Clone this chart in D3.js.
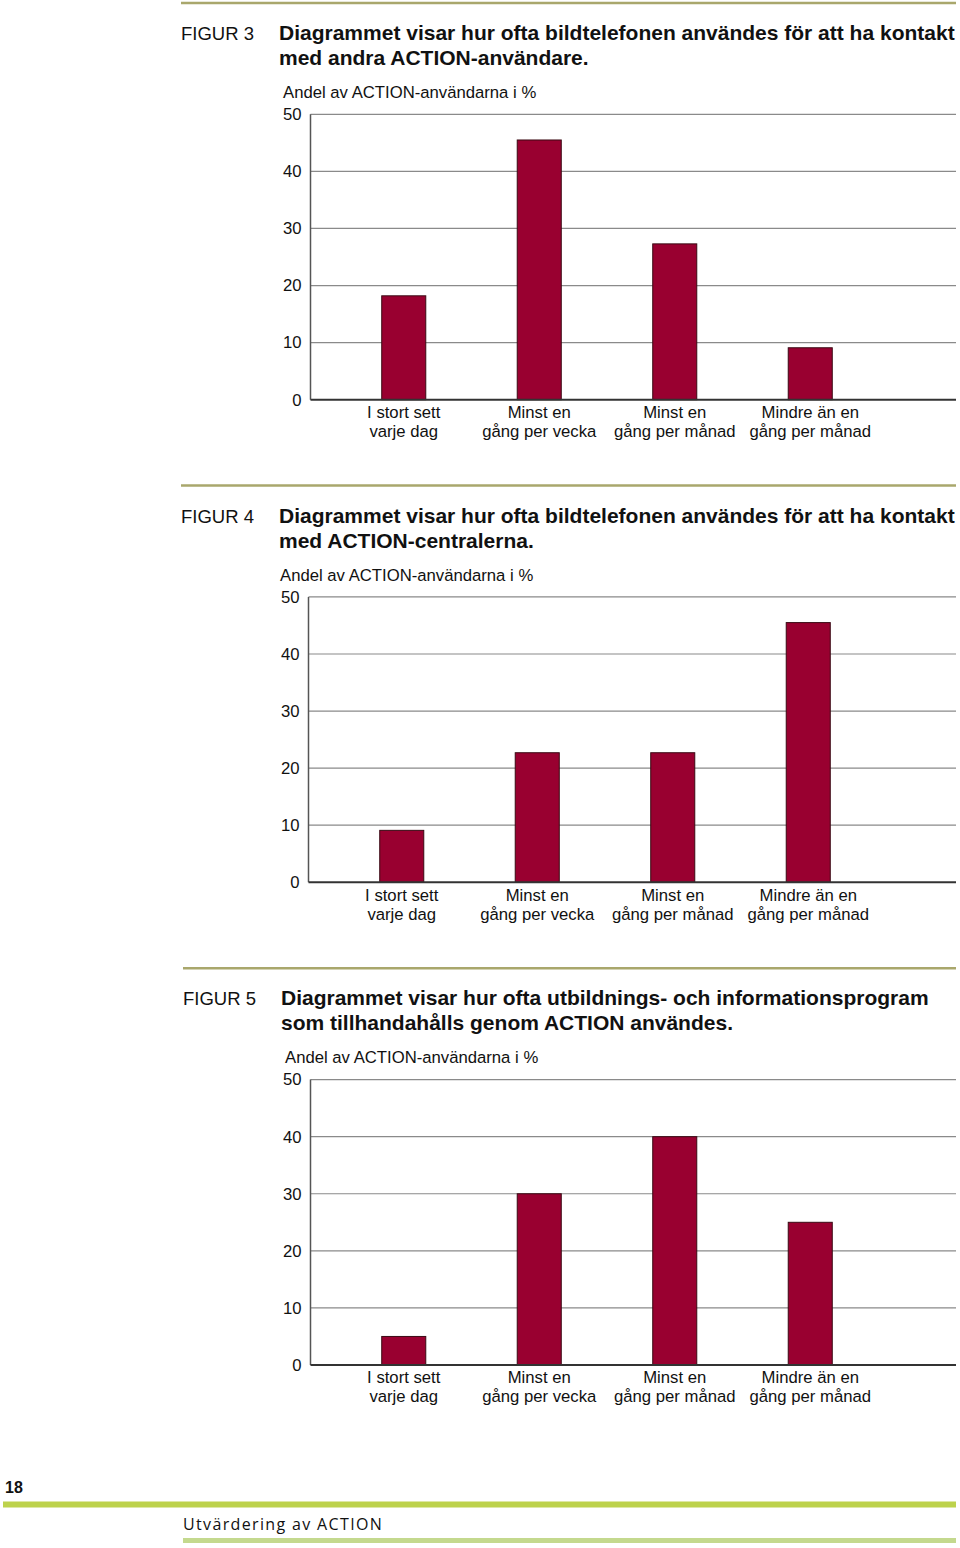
<!DOCTYPE html>
<html>
<head>
<meta charset="utf-8">
<script src="https://cdn.jsdelivr.net/npm/d3@7"></script>
<style>
  html, body { margin: 0; padding: 0; background: #fff; }
  svg { display: block; }
  text { font-family: "Liberation Sans", Arial, sans-serif; fill: #111; }
</style>
</head>
<body>
<svg id="page" width="960" height="1548"></svg>
<script>
// ---- Data ----
const categories = [
  ["I stort sett", "varje dag"],
  ["Minst en", "gång per vecka"],
  ["Minst en", "gång per månad"],
  ["Mindre än en", "gång per månad"]
];
const yTicks = [0, 10, 20, 30, 40, 50];
const yLabel = "Andel av ACTION-användarna i %";

const fig3Values = [18.2, 45.5, 27.3, 9.1];
const fig4Values = [9.1, 22.7, 22.7, 45.5];
const fig5Values = [5, 30, 40, 25];

const figureNames = ["FIGUR 3", "FIGUR 4", "FIGUR 5"];
const figureTitles = [
  ["Diagrammet visar hur ofta bildtelefonen användes för att ha kontakt", "med andra ACTION-användare."],
  ["Diagrammet visar hur ofta bildtelefonen användes för att ha kontakt", "med ACTION-centralerna."],
  ["Diagrammet visar hur ofta utbildnings- och informationsprogram", "som tillhandahålls genom ACTION användes."]
];
const pageNumber = "18";
const footerText = "Utvärdering av ACTION";

// ---- Layout ----
const svg = d3.select("#page");
const figs = [
  { values: fig3Values, oy: 0,     dx: 0,  tdx: 0, lineX: 181 },
  { values: fig4Values, oy: 482.6, dx: -2, tdx: 0, lineX: 181 },
  { values: fig5Values, oy: 965.3, dx: 0,  tdx: 2, lineX: 183 }
];

figs.forEach((f, i) => {
  const g = svg.append("g").attr("transform", `translate(0,${f.oy})`);

  // separator line
  g.append("line")
    .attr("x1", f.lineX).attr("x2", 956)
    .attr("y1", 3).attr("y2", 3)
    .attr("stroke", "#a9a76c").attr("stroke-width", 2.5);

  // figure label and title
  g.append("text").attr("x", 181 + f.tdx).attr("y", 40)
    .style("font-size", "18.5px").text(figureNames[i]);
  const t = g.append("text").style("font-size", "21px").style("font-weight", "bold");
  figureTitles[i].forEach((line, k) => {
    t.append("tspan").attr("x", 279 + f.tdx).attr("y", 40 + k * 25).text(line);
  });

  // y label
  g.append("text").attr("x", 283 + f.tdx - (i === 1 ? 3 : 0)).attr("y", 98)
    .style("font-size", "16.7px").text(yLabel);

  const axisX = 310.5 + f.dx;
  const rightX = 956;
  const y = d3.scaleLinear().domain([0, 50]).range([399.7, 114.3]);
  const x = d3.scaleBand().domain(d3.range(categories.length))
    .range([336 + f.dx, 878 + f.dx]).paddingInner(0.675).paddingOuter(0.3375);

  // gridlines
  g.append("g").selectAll("line").data(yTicks.filter(d => d > 0)).join("line")
    .attr("x1", axisX).attr("x2", rightX)
    .attr("y1", d => y(d)).attr("y2", d => y(d))
    .attr("stroke", "#8a8a8a").attr("stroke-width", 1.2);

  // y axis (labels via d3 axis)
  const yAxis = d3.axisLeft(y).tickValues(yTicks).tickSize(0).tickPadding(9).tickFormat(d3.format("d"));
  const ya = g.append("g").attr("transform", `translate(${axisX},0)`).call(yAxis);
  ya.select(".domain").remove();
  ya.selectAll("text").style("font-size", "16.7px").style("font-family", "Liberation Sans, Arial, sans-serif").attr("fill", "#111");

  // bars
  g.append("g").selectAll("rect").data(f.values).join("rect")
    .attr("x", (d, k) => x(k))
    .attr("width", x.bandwidth())
    .attr("y", d => y(d))
    .attr("height", d => y(0) - y(d))
    .attr("fill", "#990030")
    .attr("stroke", "#3a0a14").attr("stroke-width", 1);

  // axis lines
  g.append("line").attr("x1", axisX).attr("x2", axisX)
    .attr("y1", y(50)).attr("y2", y(0))
    .attr("stroke", "#555").attr("stroke-width", 1.5);
  g.append("line").attr("x1", axisX).attr("x2", rightX)
    .attr("y1", y(0)).attr("y2", y(0))
    .attr("stroke", "#333").attr("stroke-width", 2);

  // category labels
  const cl = g.append("g").selectAll("text").data(categories).join("text")
    .attr("text-anchor", "middle")
    .style("font-size", "16.7px");
  cl.each(function(lines, k) {
    const el = d3.select(this);
    lines.forEach((ln, j) => {
      el.append("tspan")
        .attr("x", x(k) + x.bandwidth() / 2)
        .attr("y", y(0) + 18.5 + j * 19)
        .text(ln);
    });
  });
});

// ---- Footer ----
svg.append("text").attr("x", 5).attr("y", 1493)
  .style("font-size", "16px").style("font-weight", "bold").text(pageNumber);
svg.append("rect").attr("x", 3).attr("y", 1501.5).attr("width", 953).attr("height", 6)
  .attr("fill", "#bdd24c");
svg.append("text").attr("x", 183).attr("y", 1530)
  .style("font-family", "'Open Sans', 'DejaVu Sans', sans-serif")
  .style("font-size", "16px").style("letter-spacing", "1.35px").attr("fill", "#222")
  .text(footerText);
svg.append("rect").attr("x", 183).attr("y", 1538).attr("width", 773).attr("height", 5)
  .attr("fill", "#c4d98e");
</script>
</body>
</html>
